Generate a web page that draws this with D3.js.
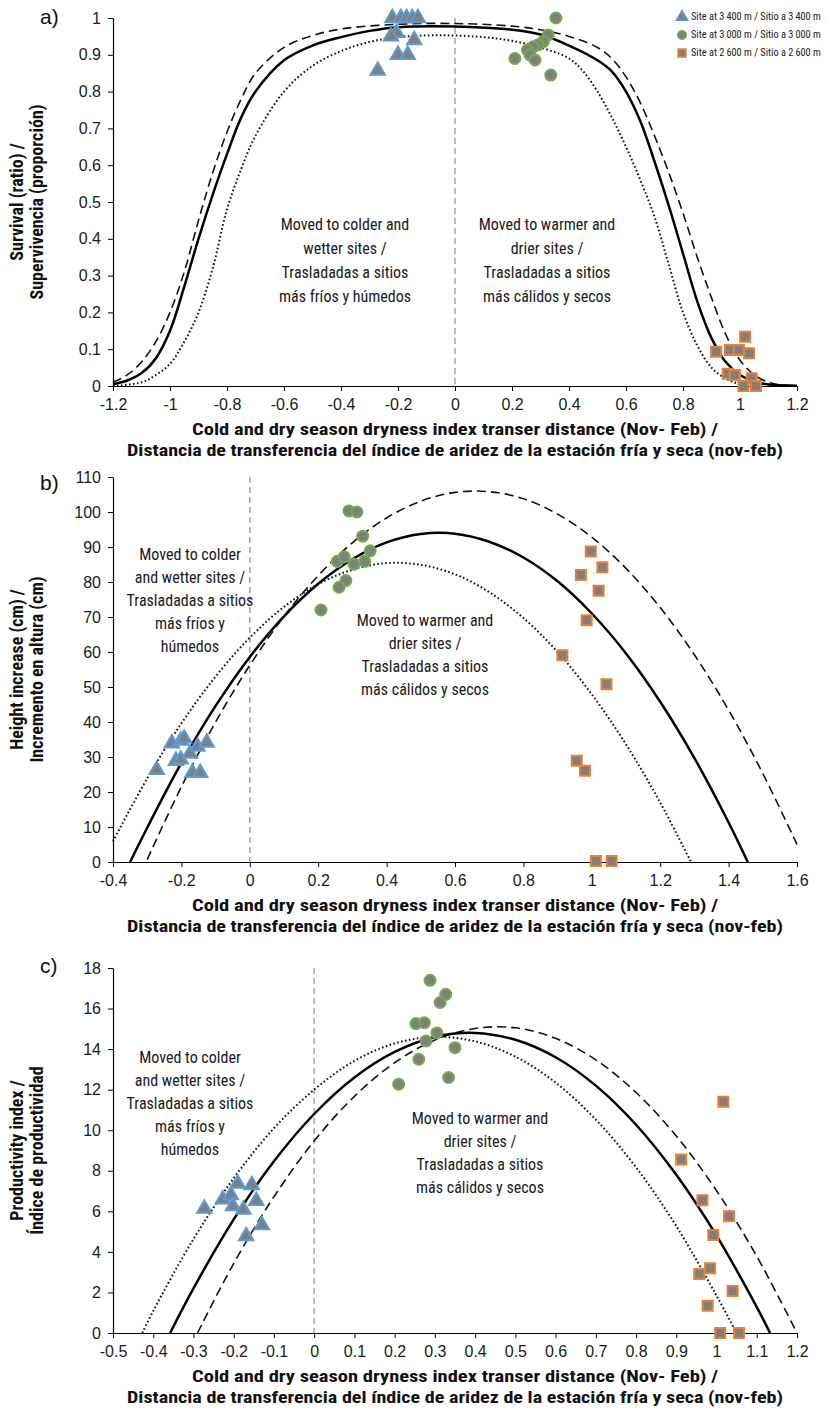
<!DOCTYPE html>
<html lang="es">
<head>
<meta charset="utf-8">
<title>transferencia</title>
<script src="https://cdn.jsdelivr.net/npm/d3@7"></script>
<style>
  body { margin: 0; background: #fff; }
</style>
</head>
<body>
<svg width="827" height="1416"></svg>
<script>
// ---- tick values ----
var aXTicks = [-1.2, -1, -0.8, -0.6, -0.4, -0.2, 0, 0.2, 0.4, 0.6, 0.8, 1, 1.2];
var aYTicks = [0, 0.1, 0.2, 0.3, 0.4, 0.5, 0.6, 0.7, 0.8, 0.9, 1];
var bXTicks = [-0.4, -0.2, 0, 0.2, 0.4, 0.6, 0.8, 1, 1.2, 1.4, 1.6];
var bYTicks = [0, 10, 20, 30, 40, 50, 60, 70, 80, 90, 100, 110];
var cXTicks = [-0.5, -0.4, -0.3, -0.2, -0.1, 0, 0.1, 0.2, 0.3, 0.4, 0.5, 0.6, 0.7, 0.8, 0.9, 1, 1.1, 1.2];
var cYTicks = [0, 2, 4, 6, 8, 10, 12, 14, 16, 18];

// ---- legend ----
var siteNames = ["Site at 3\u2009400 m / Sitio a 3\u2009400 m", "Site at 3\u2009000 m / Sitio a 3\u2009000 m", "Site at 2\u2009600 m / Sitio a 2\u2009600 m"];

// ---- a) survival ----
var aSite3400 = [[-0.22,1],[-0.19,1],[-0.17,1],[-0.15,1],[-0.13,1],[-0.205,0.96],[-0.225,0.95],[-0.143,0.94],[-0.2,0.9],[-0.166,0.9],[-0.271,0.857]];
var aSite3000 = [[0.354,1],[0.327,0.954],[0.31,0.936],[0.292,0.927],[0.275,0.922],[0.254,0.913],[0.263,0.9],[0.281,0.886],[0.21,0.89],[0.336,0.845]];
var aSite2600 = [[1.018,0.134],[0.916,0.093],[0.965,0.098],[0.996,0.098],[1.032,0.089],[0.957,0.033],[0.982,0.03],[1.041,0.021],[1.012,0],[1.056,0]];
var aSolid = [[-1.2,0.005],[-1.15,0.015],[-1.1,0.035],[-1.05,0.075],[-1,0.15],[-0.95,0.27],[-0.9,0.4],[-0.85,0.52],[-0.8,0.63],[-0.75,0.73],[-0.7,0.8],[-0.6,0.885],[-0.5,0.925],[-0.4,0.948],[-0.3,0.965],[-0.2,0.975],[0,0.977],[0.2,0.968],[0.3,0.955],[0.4,0.925],[0.5,0.885],[0.55,0.855],[0.6,0.8],[0.65,0.72],[0.7,0.61],[0.75,0.49],[0.8,0.36],[0.85,0.23],[0.9,0.13],[0.95,0.065],[1,0.03],[1.05,0.012],[1.1,0.004],[1.2,0.001]];
var aDashed = [[-1.2,0.01],[-1.15,0.03],[-1.1,0.065],[-1.05,0.12],[-1,0.2],[-0.95,0.31],[-0.9,0.45],[-0.85,0.58],[-0.8,0.69],[-0.75,0.78],[-0.7,0.85],[-0.6,0.92],[-0.5,0.952],[-0.4,0.97],[-0.2,0.983],[0,0.985],[0.2,0.978],[0.3,0.968],[0.4,0.95],[0.5,0.92],[0.55,0.89],[0.6,0.84],[0.65,0.77],[0.7,0.68],[0.75,0.58],[0.8,0.47],[0.85,0.35],[0.9,0.24],[0.95,0.14],[1,0.07],[1.05,0.03],[1.1,0.01],[1.15,0.002],[1.2,0]];
var aDotted = [[-1.2,0],[-1.1,0.01],[-1.05,0.03],[-1,0.06],[-0.95,0.12],[-0.9,0.2],[-0.85,0.32],[-0.8,0.48],[-0.75,0.59],[-0.7,0.68],[-0.6,0.8],[-0.5,0.87],[-0.4,0.91],[-0.3,0.935],[-0.2,0.948],[-0.05,0.953],[0.1,0.948],[0.2,0.938],[0.3,0.92],[0.4,0.89],[0.45,0.855],[0.5,0.8],[0.55,0.73],[0.6,0.65],[0.65,0.56],[0.7,0.46],[0.75,0.33],[0.8,0.2],[0.85,0.11],[0.9,0.05],[0.95,0.02],[1,0.005],[1.05,0]];

// ---- b) height increase ----
var bSite3400 = [[-0.272,26.3],[-0.228,33.9],[-0.202,34.7],[-0.192,35.3],[-0.216,28.9],[-0.202,29.3],[-0.175,31],[-0.153,33],[-0.126,34.1],[-0.168,25.5],[-0.145,25.5]];
var bSite3000 = [[0.29,100.3],[0.313,100],[0.33,93.1],[0.352,88.9],[0.256,85.9],[0.276,87.2],[0.305,85.1],[0.336,85.9],[0.281,80.4],[0.261,78.5],[0.208,72]];
var bSite2600 = [[0.997,88.7],[1.031,84.2],[0.968,82],[1.02,77.5],[0.985,69.1],[0.914,59.1],[1.043,50.8],[0.956,28.9],[0.98,26.1],[1.012,0.3],[1.058,0.3]];
var bSolid = [[-0.35,0],[-0.3,9.8],[-0.2,28.3],[-0.1,44.6],[0,58.6],[0.1,70.2],[0.2,79.5],[0.3,86.5],[0.4,91.3],[0.5,93.7],[0.6,93.8],[0.7,91.5],[0.8,87],[0.9,80.2],[1,71],[1.1,59.6],[1.2,45.8],[1.3,29.7],[1.4,11.3],[1.456,0]];
var bDashed = [[-0.3,0.7],[-0.2,21.5],[-0.1,40],[0,56.2],[0.1,70.2],[0.2,81.8],[0.3,91.2],[0.4,98.3],[0.5,103.1],[0.6,105.6],[0.7,105.8],[0.8,103.8],[0.9,99.4],[1,92.8],[1.1,83.9],[1.2,72.7],[1.3,59.2],[1.4,43.4],[1.5,25.3],[1.6,5]];
var bDotted = [[-0.4,5.9],[-0.3,23.9],[-0.2,39.6],[-0.1,53],[0,64.1],[0.1,72.9],[0.2,79.4],[0.3,83.5],[0.4,85.4],[0.5,84.9],[0.6,82.2],[0.7,77.1],[0.8,69.7],[0.9,60],[1,47.9],[1.1,33.6],[1.2,17],[1.29,0]];

// ---- c) productivity ----
var cSite3400 = [[-0.19,7.37],[-0.155,7.29],[-0.227,6.59],[-0.207,6.8],[-0.202,6.26],[-0.176,6.09],[-0.144,6.52],[-0.273,6.14],[-0.13,5.32],[-0.169,4.78]];
var cSite3000 = [[0.288,17.39],[0.327,16.7],[0.313,16.3],[0.253,15.26],[0.274,15.3],[0.305,14.8],[0.278,14.4],[0.35,14.07],[0.26,13.5],[0.334,12.6],[0.21,12.27]];
var cSite2600 = [[1.017,11.4],[0.912,8.56],[0.965,6.55],[1.031,5.76],[0.992,4.83],[0.984,3.19],[0.957,2.91],[1.04,2.07],[0.978,1.35],[1.009,0],[1.056,0]];
var cSolid = [[-0.358,0],[-0.3,2.2],[-0.2,5.6],[-0.1,8.47],[0,10.8],[0.1,12.6],[0.2,13.86],[0.3,14.6],[0.4,14.8],[0.5,14.46],[0.6,13.6],[0.7,12.2],[0.8,10.27],[0.9,7.8],[1,4.8],[1.1,1.28],[1.133,0]];
var cDashed = [[-0.29,0],[-0.2,3.43],[-0.1,6.72],[0,9.47],[0.1,11.67],[0.2,13.33],[0.3,14.45],[0.4,15.02],[0.5,15.05],[0.6,14.53],[0.7,13.47],[0.8,11.86],[0.9,9.71],[1,7.02],[1.1,3.78],[1.2,0]];
var cDotted = [[-0.427,0],[-0.4,1.09],[-0.3,4.63],[-0.2,7.63],[-0.1,10.1],[0,12],[0.1,13.42],[0.2,14.28],[0.3,14.6],[0.4,14.38],[0.5,13.63],[0.6,12.35],[0.7,10.52],[0.8,8.17],[0.9,5.27],[1,1.84],[1.05,0]];

// ---- texts ----
var xTitle = ["Cold and dry season dryness index transer distance (Nov- Feb) /",
              "Distancia de transferencia del índice de aridez de la estación fría y seca (nov-feb)"];
var aYTitle = ["Survival (ratio) /", "Supervivencia (proporción)"];
var bYTitle = ["Height increase (cm) /", "Incremento en altura (cm)"];
var cYTitle = ["Productivity index /", "Índice de productividad"];
var aNoteCold = ["Moved to colder and", "wetter sites /", "Trasladadas a sitios", "más fríos y húmedos"];
var aNoteWarm = ["Moved to warmer and", "drier sites /", "Trasladadas a sitios", "más cálidos y secos"];
var bcNoteCold = ["Moved to colder", "and wetter sites /", "Trasladadas a sitios", "más fríos y", "húmedos"];
var bcNoteWarm = ["Moved to warmer and", "drier sites /", "Trasladadas a sitios", "más cálidos y secos"];
</script>

<script>
var svg = d3.select("svg");
var condFont = "'Roboto Condensed','Liberation Sans Narrow','Arial Narrow','DejaVu Sans Condensed',sans-serif";
var tickFont = "'Liberation Sans',Arial,sans-serif";
var left = 113, right = 797;
var colors = ["#5b9bd5", "#70ad47", "#ed7d31"];
var shapes = [d3.symbolTriangle, d3.symbolCircle, d3.symbolSquare];
var sizes = [90, 95, 100];
function fmt(d) { return String(+d.toFixed(2)) }

var panels = [
  {label: "a)", labelY: 18, top: 18, bottom: 386, xDom: [-1.2, 1.2], yDom: [0, 1], xTicks: aXTicks, yTicks: aYTicks,
   solid: aSolid, dashed: aDashed, dotted: aDotted, sites: [aSite3400, aSite3000, aSite2600],
   yTitle: aYTitle,
   notes: [{lines: aNoteCold, x: 345, y: 226, lh: 24}, {lines: aNoteWarm, x: 547, y: 226, lh: 24}]},
  {label: "b)", labelY: 484, top: 477, bottom: 862, xDom: [-0.4, 1.6], yDom: [0, 110], xTicks: bXTicks, yTicks: bYTicks,
   solid: bSolid, dashed: bDashed, dotted: bDotted, sites: [bSite3400, bSite3000, bSite2600],
   yTitle: bYTitle,
   notes: [{lines: bcNoteCold, x: 190, y: 556, lh: 23}, {lines: bcNoteWarm, x: 425, y: 622, lh: 23}]},
  {label: "c)", labelY: 967, top: 968, bottom: 1333, xDom: [-0.5, 1.2], yDom: [0, 18], xTicks: cXTicks, yTicks: cYTicks,
   solid: cSolid, dashed: cDashed, dotted: cDotted, sites: [cSite3400, cSite3000, cSite2600],
   yTitle: cYTitle,
   notes: [{lines: bcNoteCold, x: 190, y: 1059, lh: 23}, {lines: bcNoteWarm, x: 480, y: 1120, lh: 23}]}
];

panels.forEach(function (p) {
  var x = d3.scaleLinear().domain(p.xDom).range([left, right]);
  var y = d3.scaleLinear().domain(p.yDom).range([p.bottom, p.top]);
  var g = svg.append("g");

  // zero line
  g.append("line")
    .attr("x1", x(0)).attr("x2", x(0))
    .attr("y1", y(p.yDom[1])).attr("y2", y(0))
    .attr("stroke", "#a6a6a6").attr("stroke-width", 1.5)
    .attr("stroke-dasharray", "6,4");

  var xAxis = d3.axisBottom(x).tickValues(p.xTicks).tickFormat(fmt).tickSizeInner(5).tickSizeOuter(0).tickPadding(8);
  var yAxis = d3.axisLeft(y).tickValues(p.yTicks).tickFormat(fmt).tickSizeInner(5).tickSizeOuter(0).tickPadding(7);

  g.append("g").attr("transform", "translate(0," + p.bottom + ")").call(xAxis);
  g.append("g").attr("transform", "translate(" + left + ",0)").call(yAxis);
  g.selectAll(".domain").attr("stroke", "#000").attr("stroke-width", 1.2);
  g.selectAll(".tick line").attr("stroke", "#000");
  g.selectAll(".tick text").attr("font-family", tickFont).attr("font-size", 16).attr("fill", "#1a1a1a");

  // curves
  var line = d3.line().x(function (d) { return x(d[0]) }).y(function (d) { return y(d[1]) }).curve(d3.curveCatmullRom.alpha(0.5));
  g.append("path").datum(p.dotted).attr("fill", "none").attr("stroke", "#111")
    .attr("stroke-width", 2).attr("stroke-dasharray", "1.6,2.4").attr("d", line);
  g.append("path").datum(p.dashed).attr("fill", "none").attr("stroke", "#111")
    .attr("stroke-width", 1.6).attr("stroke-dasharray", "9,5").attr("d", line);
  g.append("path").datum(p.solid).attr("fill", "none").attr("stroke", "#000")
    .attr("stroke-width", 2.5).attr("d", line);

  // points
  p.sites.forEach(function (pts, k) {
    g.selectAll(null).data(pts).enter()
      .append("path")
        .attr("d", d3.symbol().type(shapes[k]).size(sizes[k]))
        .attr("transform", function (d) { return "translate(" + x(d[0]) + "," + y(d[1]) + ")" })
        .attr("fill", "#7f7f7f")
        .attr("stroke", colors[k])
        .attr("stroke-width", 2);
  });

  // notes
  p.notes.forEach(function (n) {
    g.selectAll(null).data(n.lines).enter()
      .append("text")
        .attr("x", n.x).attr("y", function (d, i) { return n.y + i * n.lh })
        .attr("text-anchor", "middle").attr("dominant-baseline", "middle")
        .attr("font-family", condFont).attr("font-stretch", "condensed")
        .attr("font-size", 16).attr("fill", "#1a1a1a")
        .text(function (d) { return d });
  });

  // axis titles
  g.selectAll(null).data(xTitle).enter()
    .append("text")
      .attr("x", 455).attr("y", function (d, i) { return p.bottom + 45 + i * 21 })
      .attr("text-anchor", "middle").attr("dominant-baseline", "middle")
      .attr("font-family", condFont).attr("font-stretch", "condensed").attr("font-weight", "bold")
      .attr("font-size", 17).attr("fill", "#111")
      .attr("textLength", function (d, i) { return i == 0 ? 526 : 656 })
      .attr("lengthAdjust", "spacingAndGlyphs")
      .text(function (d) { return d });

  var cy = (p.top + p.bottom) / 2;
  g.selectAll(null).data(p.yTitle).enter()
    .append("text")
      .attr("transform", function (d, i) { return "translate(" + (18 + i * 20) + "," + cy + ") rotate(-90)" })
      .attr("text-anchor", "middle").attr("dominant-baseline", "middle")
      .attr("font-family", condFont).attr("font-stretch", "condensed").attr("font-weight", "bold")
      .attr("font-size", 18).attr("fill", "#111")
      .text(function (d) { return d });

  g.append("text")
    .attr("x", 40).attr("y", p.labelY)
    .attr("dominant-baseline", "middle")
    .attr("font-family", tickFont).attr("font-size", 21).attr("fill", "#111")
    .text(p.label);
});

// legend: shrink the font until the longest name fits before the right edge
var leg = svg.append("g");
var legTexts = [];
siteNames.forEach(function (name, k) {
  leg.append("path")
    .attr("d", d3.symbol().type(shapes[k]).size(sizes[k] * 0.6))
    .attr("transform", "translate(682," + (17 + k * 18) + ")")
    .attr("fill", "#7f7f7f").attr("stroke", colors[k]).attr("stroke-width", 1.6);
  legTexts.push(leg.append("text")
    .attr("x", 691).attr("y", 17 + k * 18)
    .attr("dominant-baseline", "middle")
    .attr("font-family", condFont)
    .attr("font-size", 12).attr("fill", "#1a1a1a")
    .text(name));
});
var widest = d3.max(legTexts, function (t) { return t.node().getComputedTextLength() });
if (widest > 130) {
  legTexts.forEach(function (t) { t.attr("font-size", 12 * 130 / widest) });
}
</script>
</body>
</html>
